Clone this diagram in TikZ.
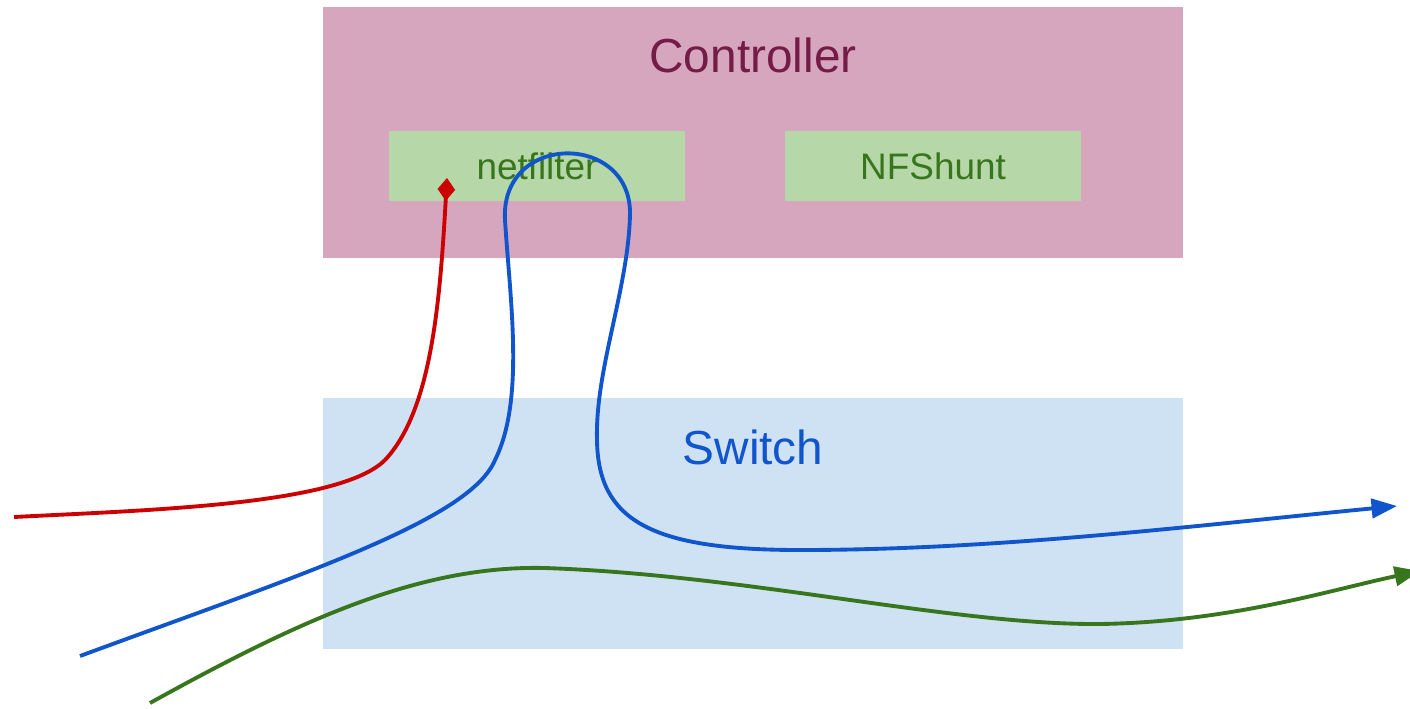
\documentclass[tikz,border=0pt]{standalone}
\usepackage{fontspec}
\setmainfont{Liberation Sans}
\usetikzlibrary{arrows.meta}
\definecolor{ctrlbg}{HTML}{D5A6BD}
\definecolor{ctrltx}{HTML}{741B47}
\definecolor{modbg}{HTML}{B6D7A8}
\definecolor{modtx}{HTML}{38761D}
\definecolor{swbg}{HTML}{CFE2F3}
\definecolor{swtx}{HTML}{1155CC}
\definecolor{redln}{HTML}{CC0000}
\begin{document}
\begin{tikzpicture}[x=0.02cm,y=-0.02cm,
  bigbox/.style={draw=none,inner sep=0pt,minimum width=17.2cm,minimum height=5.02cm},
  modbox/.style={fill=modbg,draw=none,inner sep=0pt,minimum width=5.92cm,minimum height=1.4cm,
     text=modtx,font=\fontsize{21}{25}\selectfont},
  bigtext/.style={font=\fontsize{27.2}{32}\selectfont},
  flow/.style={line width=2.2pt},
  flowtip/.style={-{Triangle[length=14.5pt,width=11pt]}},
]
\useasboundingbox (0,0) rectangle (1410,708);
\node[bigbox,fill=ctrlbg] (ctrl) at (753,132.5) {};
\node[bigtext,text=ctrltx] (ctrltitle) at (753,55) {Controller};
\node[modbox] (netf) at (537,166) {netfilter};
\node[modbox] (nfs) at (933,166) {NFShunt};
\node[bigbox,fill=swbg] (sw) at (753,523.5) {};
\node[bigtext,text=swtx] (swtitle) at (753,447) {Switch};

\coordinate (rin) at (14,517);
\coordinate (rend) at (447,178);
\coordinate (bin) at (80,656);
\coordinate (bout) at (1397,506);
\coordinate (gin) at (150,703);
\coordinate (gout) at (1420,571);

\draw[flow,redln,-{Diamond[length=13pt,width=10pt]}]
  (rin) .. controls (150,510) and (340,505) .. (385,460)
        .. controls (432,410) and (440,300) .. (rend);
\draw[flow,swtx,flowtip]
  (bin) .. controls (300,575) and (470,520) .. (495,460)
        .. controls (525,400) and (510,300) .. (505,220)
        .. controls (500,132) and (632,132) .. (630,215)
        .. controls (628,290) and (595,370) .. (597,440)
        .. controls (598,520) and (650,550) .. (800,550)
        .. controls (1000,550) and (1200,525) .. (bout);
\draw[flow,modtx,flowtip]
  (gin) .. controls (300,620) and (420,565) .. (545,568)
        .. controls (750,575) and (950,625) .. (1100,624)
        .. controls (1230,622) and (1330,590) .. (gout);
\end{tikzpicture}
\end{document}
